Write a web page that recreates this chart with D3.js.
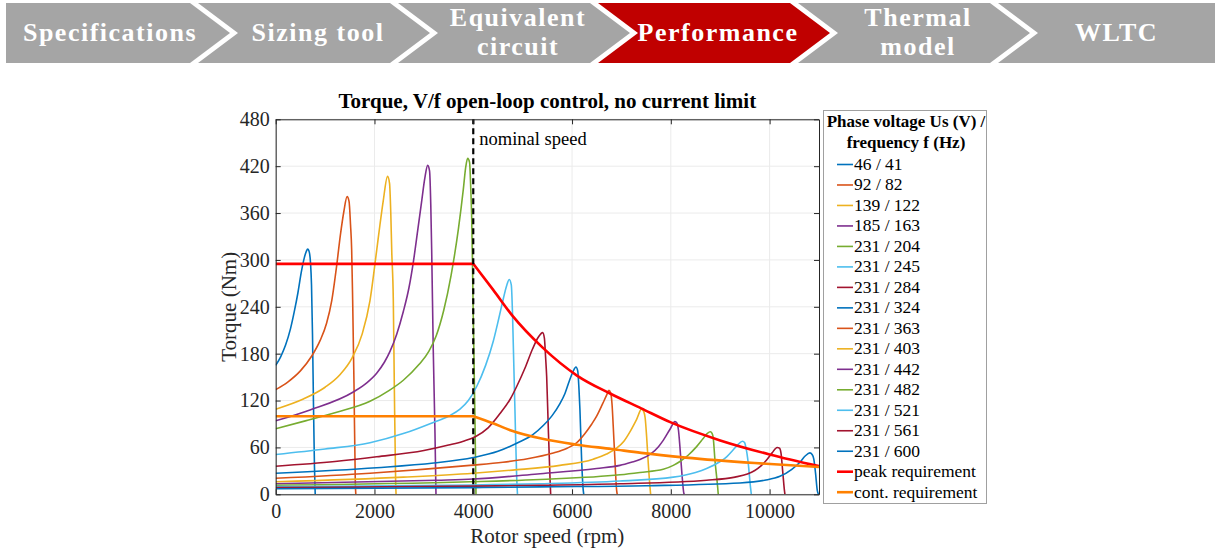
<!DOCTYPE html>
<html>
<head>
<meta charset="utf-8">
<script src="https://cdn.jsdelivr.net/npm/d3@7"></script>
<style>
  html, body { margin: 0; padding: 0; background: #fff; }
  svg { display: block; }
  svg text { font-family: "Liberation Serif", "Times New Roman", serif; }
</style>
</head>
<body>
<div id="chart"></div>
<script>
// ── Values ───────────────────────────────────────────────────────────────
const steps = [["Specifications"], ["Sizing tool"], ["Equivalent", "circuit"],
               ["Performance"], ["Thermal", "model"], ["WLTC"]];
const activeStep = "Performance";

const legendLabels = ["46 / 41", "92 / 82", "139 / 122", "185 / 163", "231 / 204",
  "231 / 245", "231 / 284", "231 / 324", "231 / 363", "231 / 403", "231 / 442",
  "231 / 482", "231 / 521", "231 / 561", "231 / 600"];

// [rotor speed rpm, torque Nm] for each V/f operating point
const vfCurves = [
  [[0,165],[100,176],[200,191],[300,212],[380,235],[450,258],[520,285],[580,303],[620,311],[648,314],[680,310],[705,296],[725,268],[745,205],[765,115],[785,35],[800,0]],
  [[0,134],[250,144],[500,158],[730,177],[900,197],[1030,219],[1135,248],[1235,293],[1310,332],[1380,362],[1445,381],[1485,375],[1515,345],[1538,313],[1558,249],[1585,142],[1612,14],[1622,0]],
  [[0,109],[560,122],[1000,137],[1300,153],[1550,175],[1750,205],[1909,248],[2044,312],[2111,345],[2178,376],[2265,407],[2305,398],[2330,360],[2350,310],[2381,249],[2401,142],[2429,14],[2437,0]],
  [[0,94],[694,108],[1571,131],[1850,143],[2044,155],[2200,169],[2314,183],[2450,205],[2584,234],[2700,265],[2786,297],[2880,340],[2955,375],[3020,405],[3077,421],[3115,414],[3140,370],[3158,313],[3190,185],[3225,78],[3245,0]],
  [[0,84],[600,94],[1235,105],[1909,119],[2300,133],[2584,146],[2900,166],[3100,183],[3250,203],[3400,235],[3550,280],[3700,340],[3798,390],[3850,420],[3887,430],[3925,425],[3950,390],[3968,355],[4000,227],[4034,99],[4055,0]],
  [[0,51],[1000,58],[1909,66],[2600,78],[3190,92],[3500,100],[3731,109],[3900,120],[4069,138],[4250,165],[4405,196],[4520,226],[4607,250],[4680,268],[4729,275],[4770,268],[4795,230],[4810,193],[4844,108],[4879,22],[4895,0]],
  [[0,36],[1200,42],[2044,48],[3000,56],[3500,63],[3800,68],[4050,74],[4300,85],[4550,104],[4750,122],[4879,138],[5050,162],[5200,186],[5316,201],[5405,207],[5440,200],[5465,175],[5486,151],[5518,87],[5553,22],[5567,0]],
  [[0,27],[2044,34],[3200,40],[4000,47],[4500,55],[4900,66],[5200,76],[5417,88],[5600,101],[5755,116],[5850,128],[5950,146],[6020,157],[6079,163],[6115,158],[6140,135],[6160,108],[6194,44],[6227,5],[6237,0]],
  [[0,20.5],[1909,27],[3933,37],[4600,41],[5100,45.5],[5600,52.5],[5900,59],[6093,66],[6250,77],[6400,90],[6498,100],[6620,116],[6700,127],[6747,133],[6780,130],[6810,115],[6834,87],[6868,44],[6903,5],[6915,0]],
  [[0,16],[2584,22],[4000,27],[4800,31],[5755,37],[6429,45],[6700,51.5],[6900,59],[7050,68],[7172,80],[7308,96],[7409,109],[7450,106],[7480,98],[7510,74],[7543,40],[7577,10],[7591,0]],
  [[0,13.5],[3259,18],[4000,19.5],[5300,26],[6500,33],[6970,37],[7200,41],[7374,44.5],[7600,52],[7750,61],[7846,69],[7981,83],[8083,93],[8125,91],[8155,82],[8184,61],[8219,31],[8265,1],[8272,0]],
  [[0,11.5],[3933,16],[5350,19],[6970,25],[7374,28],[7846,32],[8050,37],[8184,42],[8350,50],[8522,61],[8650,71],[8740,78],[8800,80],[8835,78],[8859,72],[8893,44],[8947,10],[8960,0]],
  [[0,9.8],[4000,12],[5350,13.5],[6970,17],[8049,22],[8500,28],[8725,33],[9000,42],[9130,48],[9264,57],[9380,65],[9453,68],[9495,66],[9520,60],[9567,40],[9615,8],[9630,0]],
  [[0,8.5],[4000,10.5],[5350,11.5],[6970,13.5],[8725,18],[9300,22],[9550,26],[9700,30.5],[9820,36],[9939,44],[10050,53],[10154,60],[10200,59],[10230,53],[10263,31],[10300,5],[10310,0]],
  [[0,7.2],[4000,8.5],[5350,9.5],[7500,11],[9399,14.5],[9900,18],[10209,23],[10450,32],[10614,41],[10720,49],[10816,53],[10860,51],[10895,45],[10930,27],[10965,5],[10990,0]]
];

const peakRequirement = [[0,295],[4000,295],[4400,262],[4800,228],[5400,188],[6100,152],[6770,129],[7400,110],[8000,92],[9000,69],[10000,51],[11000,36]];
const contRequirement = [[0,100],[4000,100],[4400,91],[4750,82],[5400,71],[6100,63.5],[6800,58],[7400,53],[8300,47],[9700,40],[11000,35]];

const xTicks = [0, 2000, 4000, 6000, 8000, 10000];
const yTicks = [0, 60, 120, 180, 240, 300, 360, 420, 480];
const nominalSpeed = 4000;

// ── Styles ───────────────────────────────────────────────────────────────
const W = 1215, H = 550;
const SERIF = "'Liberation Serif', 'Times New Roman', serif";
const matlabColors = ["#0072BD", "#D95319", "#EDB120", "#7E2F8E", "#77AC30", "#4DBEEE", "#A2142F"];
const PEAK = "#FF0000", CONT = "#FF8000";
const AXIS = "#262626";
const GRAY = "#A5A5A5", RED = "#C00000";

const svg = d3.select("#chart").append("svg")
  .attr("width", W).attr("height", H)
  .attr("font-family", SERIF)
  .style("background", "#fff");

// ── Process banner (chevrons) ────────────────────────────────────────────
const bannerTop = 3, bannerBot = 63, tip = 40, gap = 8;
const bandX = d3.scaleBand().domain(steps.map(s => s.join(" "))).range([-2, 1198]);
const bannerG = svg.append("g");

steps.forEach((lines, i) => {
  const name = lines.join(" ");
  const first = i === 0, last = i === steps.length - 1;
  const xL = first ? 6 : bandX(name);
  const xR = last ? W : bandX(name) + bandX.bandwidth() - gap;
  const mid = (bannerTop + bannerBot) / 2;
  const pts = [[xL, bannerTop], [xR, bannerTop]];
  if (!last) pts.push([xR + tip, mid]);
  pts.push([xR, bannerBot], [xL, bannerBot]);
  if (!first) pts.push([xL + tip, mid]);

  bannerG.append("polygon")
    .attr("points", pts.map(p => p.join(",")).join(" "))
    .attr("fill", name === activeStep ? RED : GRAY);

  const cx = first ? (xL + xR) / 2 + 12
           : last ? (xL + 1215) / 2 + 10
           : (xL + xR) / 2 + 24;
  const t = bannerG.append("text")
    .attr("x", cx).attr("text-anchor", "middle")
    .style("font-family", SERIF)
    .style("font-size", "26px").style("font-weight", "700")
    .style("letter-spacing", "1.5px").style("fill", "#fff");
  if (lines.length === 1) {
    t.append("tspan").attr("x", cx).attr("y", 41).text(lines[0]);
  } else {
    t.append("tspan").attr("x", cx).attr("y", 26).text(lines[0]);
    t.append("tspan").attr("x", cx).attr("y", 55).text(lines[1]);
  }
});

// ── Chart ────────────────────────────────────────────────────────────────
const plot = { left: 275.7, right: 819, top: 119.3, bottom: 494.3 };
const x = d3.scaleLinear().domain([0, 11000]).range([plot.left, plot.right]);
const y = d3.scaleLinear().domain([0, 480]).range([plot.bottom, plot.top]);

svg.append("clipPath").attr("id", "plotClip")
  .append("rect")
  .attr("x", plot.left).attr("y", plot.top - 2)
  .attr("width", plot.right - plot.left).attr("height", plot.bottom - plot.top + 2);

// grid
const gridG = svg.append("g");
xTicks.forEach(v => gridG.append("line")
  .attr("x1", x(v)).attr("x2", x(v)).attr("y1", plot.top).attr("y2", plot.bottom)
  .attr("stroke", "#ebebeb").attr("stroke-width", 1));
yTicks.forEach(v => gridG.append("line")
  .attr("x1", plot.left).attr("x2", plot.right).attr("y1", y(v)).attr("y2", y(v))
  .attr("stroke", "#ebebeb").attr("stroke-width", 1));

// curves
const smooth = d3.line().x(d => x(d[0])).y(d => y(d[1])).curve(d3.curveMonotoneX);
const straight = d3.line().x(d => x(d[0])).y(d => y(d[1]));
const curvesG = svg.append("g").attr("clip-path", "url(#plotClip)");

vfCurves.forEach((pts, i) => {
  curvesG.append("path").datum(pts)
    .attr("d", smooth).attr("fill", "none")
    .attr("stroke", matlabColors[i % matlabColors.length])
    .attr("stroke-width", 1.6);
});

// requirement lines: flat up to nominal speed, then a smooth decay (sharp knee)
[[peakRequirement, PEAK], [contRequirement, CONT]].forEach(([pts, color]) => {
  const knee = pts.findIndex(d => d[0] === nominalSpeed);
  const d = straight(pts.slice(0, knee + 1)) + smooth(pts.slice(knee)).replace(/^M/, "L");
  curvesG.append("path").attr("d", d).attr("fill", "none")
    .attr("stroke", color).attr("stroke-width", 2.6)
    .attr("stroke-linejoin", "round");
});

// nominal speed marker
curvesG.append("line")
  .attr("x1", x(nominalSpeed)).attr("x2", x(nominalSpeed))
  .attr("y1", plot.bottom).attr("y2", plot.top)
  .attr("stroke", "#000").attr("stroke-width", 2.2)
  .attr("stroke-dasharray", "6,4");
svg.append("text")
  .attr("x", x(nominalSpeed) + 6).attr("y", 145)
  .style("font-family", SERIF)
  .style("font-size", "18.5px").style("fill", "#000")
  .text("nominal speed");

// axes
const xAxis = d3.axisBottom(x).tickValues(xTicks).tickSizeInner(-5).tickSizeOuter(0).tickPadding(10).tickFormat(d3.format("d"));
const yAxis = d3.axisLeft(y).tickValues(yTicks).tickSizeInner(-5).tickSizeOuter(0).tickPadding(6).tickFormat(d3.format("d"));
const xTop = d3.axisTop(x).tickValues(xTicks).tickSizeInner(-5).tickSizeOuter(0).tickFormat("");
const yRight = d3.axisRight(y).tickValues(yTicks).tickSizeInner(-5).tickSizeOuter(0).tickFormat("");

function styleAxis(g) {
  g.attr("font-family", SERIF);
  g.select(".domain").attr("stroke", AXIS).attr("stroke-width", 1);
  g.selectAll(".tick line").attr("stroke", AXIS);
  g.selectAll(".tick text")
    .style("font-family", SERIF)
    .style("font-size", "20px").style("fill", AXIS);
}
svg.append("g").attr("transform", `translate(0,${plot.bottom})`).call(xAxis).call(styleAxis);
svg.append("g").attr("transform", `translate(${plot.left},0)`).call(yAxis).call(styleAxis);
svg.append("g").attr("transform", `translate(0,${plot.top})`).call(xTop).call(styleAxis);
svg.append("g").attr("transform", `translate(${plot.right},0)`).call(yRight).call(styleAxis);

// titles
svg.append("text")
  .attr("x", (plot.left + plot.right) / 2).attr("y", 108)
  .attr("text-anchor", "middle")
  .style("font-family", SERIF)
  .style("font-size", "21px").style("font-weight", "700").style("fill", "#000")
  .text("Torque, V/f open-loop control, no current limit");
svg.append("text")
  .attr("x", (plot.left + plot.right) / 2).attr("y", 543)
  .attr("text-anchor", "middle")
  .style("font-family", SERIF)
  .style("font-size", "21px").style("fill", AXIS)
  .text("Rotor speed (rpm)");
svg.append("text")
  .attr("transform", `translate(236,${(plot.top + plot.bottom) / 2}) rotate(-90)`)
  .attr("text-anchor", "middle")
  .style("font-family", SERIF)
  .style("font-size", "21px").style("fill", AXIS)
  .text("Torque (Nm)");

// ── Legend ──────────────────────────────────────────────────────────────
const legend = { x0: 823, x1: 986, y0: 110, y1: 503 };
const legG = svg.append("g");
legG.append("rect")
  .attr("x", legend.x0 + 0.5).attr("y", legend.y0 + 0.5)
  .attr("width", legend.x1 - legend.x0).attr("height", legend.y1 - legend.y0)
  .attr("fill", "#fff").attr("stroke", "#a0a0a0").attr("stroke-width", 1);
[["Phase voltage Us (V) /", 127], ["frequency f (Hz)", 148]].forEach(([txt, by]) => {
  legG.append("text")
    .attr("x", 906).attr("y", by).attr("text-anchor", "middle")
    .style("font-family", SERIF)
    .style("font-size", "17px").style("font-weight", "700").style("fill", "#000")
    .text(txt);
});

const legendItems = legendLabels.map((l, i) => ({ label: l, color: matlabColors[i % matlabColors.length], w: 1.6 }))
  .concat([{ label: "peak requirement", color: PEAK, w: 2.6 },
           { label: "cont. requirement", color: CONT, w: 2.6 }]);
const legY = d3.scaleLinear().domain([0, legendItems.length - 1]).range([170, 497.7]);
legendItems.forEach((it, i) => {
  const by = legY(i);
  legG.append("line")
    .attr("x1", 837).attr("x2", 853).attr("y1", by - 5.5).attr("y2", by - 5.5)
    .attr("stroke", it.color).attr("stroke-width", it.w);
  legG.append("text")
    .attr("x", 854).attr("y", by)
    .style("font-family", SERIF)
    .style("font-size", "17.5px").style("fill", "#000")
    .text(it.label);
});
</script>
</body>
</html>
